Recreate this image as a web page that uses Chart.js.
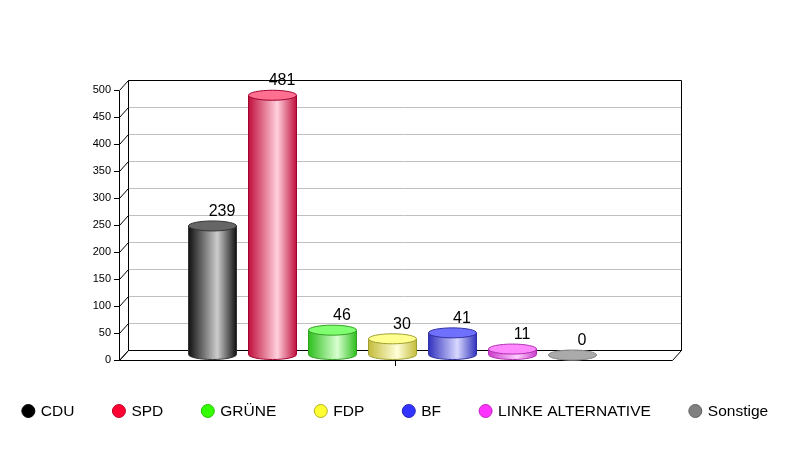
<!DOCTYPE html>
<html>
<head>
<meta charset="utf-8">
<script src="https://cdn.jsdelivr.net/npm/chart.js@4.4.1/dist/chart.umd.min.js"></script>
<style>
html,body{margin:0;padding:0;background:#fff;}
#wrap{width:791px;height:450px;position:relative;}
</style>
</head>
<body>
<div id="wrap"><canvas id="c" width="791" height="450"></canvas></div>
<script>
// ---- data ----
const categories = [''];
const parties = ['CDU', 'SPD', 'GRÜNE', 'FDP', 'BF', 'LINKE ALTERNATIVE', 'Sonstige'];
const seats = [239, 481, 46, 30, 41, 11, 0];
const yTicks = [0, 50, 100, 150, 200, 250, 300, 350, 400, 450, 500];

// ---- styles ----
const legendColors = ['#000000', '#ff0033', '#33ff00', '#ffff33', '#3333ff', '#ff33ff', '#808080'];
const legendBorders = ['#000000', '#c00028', '#28c000', '#b0b020', '#2020c0', '#c020c0', '#606060'];
const edgeColors = ['#111111', '#c0103c', '#2fbf1f', '#c4bc3c', '#3232be', '#cc3ccc', '#a8a8a8'];
const midColors  = ['#cccccc', '#ffd0dc', '#d8ffd0', '#ffffd8', '#d8d8ff', '#ffd0ff', '#a8a8a8'];
const topColors  = ['#666666', '#ff7090', '#80ff70', '#ffff90', '#7070ff', '#ff88ff', '#aaaaaa'];
const strokeColors = ['#333333', '#a00030', '#30a020', '#a0a030', '#3030a0', '#b030b0', '#8c8c8c'];
const FONT = '"Liberation Sans", Arial, sans-serif';
const DX = 9, DY = -10;       // 3D depth offset
const BAR_SHIFT = -3;         // horizontal nudge of cylinders
const RY = 5;                 // ellipse half-height

const threeD = {
  id: 'threeD',
  beforeDatasetsDraw(chart) {
    const {ctx, chartArea: a, scales: {y}} = chart;
    ctx.save();
    ctx.lineWidth = 1;
    ctx.strokeStyle = '#c0c0c0';
    yTicks.forEach(v => {
      const py = Math.round(y.getPixelForValue(v) + DY) + 0.5;
      ctx.beginPath();
      ctx.moveTo(a.left + DX, py);
      ctx.lineTo(a.right + DX, py);
      ctx.stroke();
    });
    ctx.strokeStyle = '#000';
    const L = a.left + 0.5, R = a.right + 0.5, T = Math.round(a.top) + 0.5, B = Math.round(a.bottom) + 0.5;
    ctx.beginPath();
    ctx.moveTo(L + DX, B + DY); ctx.lineTo(L + DX, T + DY); ctx.lineTo(R + DX, T + DY); ctx.lineTo(R + DX, B + DY);
    ctx.moveTo(L + DX, B + DY); ctx.lineTo(R + DX, B + DY);
    ctx.moveTo(L, B); ctx.lineTo(L + DX, B + DY);
    ctx.moveTo(R, B); ctx.lineTo(R + DX, B + DY);
    ctx.moveTo(L, B); ctx.lineTo(R, B);
    ctx.moveTo(L, T); ctx.lineTo(L, B);
    yTicks.forEach(v => {
      const py = Math.round(y.getPixelForValue(v)) + 0.5;
      ctx.moveTo(L, py); ctx.lineTo(L + DX, py + DY);
    });
    ctx.stroke();
    ctx.restore();
  },
  afterDatasetsDraw(chart) {
    const {ctx} = chart;
    ctx.save();
    chart.data.datasets.forEach((ds, i) => {
      const meta = chart.getDatasetMeta(i);
      meta.data.forEach(el => {
        const cx = el.x + BAR_SHIFT;
        const rx = el.width / 2;
        const topY = el.y - 5;
        const botY = el.base - 5;
        const g = ctx.createLinearGradient(cx - rx, 0, cx + rx, 0);
        g.addColorStop(0, edgeColors[i]);
        g.addColorStop(0.6, midColors[i]);
        g.addColorStop(1, edgeColors[i]);
        ctx.beginPath();
        ctx.moveTo(cx - rx, topY);
        ctx.lineTo(cx - rx, botY);
        ctx.ellipse(cx, botY, rx, RY, 0, Math.PI, 0, true);
        ctx.lineTo(cx + rx, topY);
        ctx.closePath();
        ctx.fillStyle = g;
        ctx.fill();
        ctx.strokeStyle = strokeColors[i];
        ctx.lineWidth = 1;
        ctx.stroke();
        ctx.beginPath();
        ctx.ellipse(cx, topY, rx, RY, 0, 0, Math.PI * 2);
        ctx.fillStyle = topColors[i];
        ctx.fill();
        ctx.stroke();
        ctx.fillStyle = '#000';
        ctx.font = '16px ' + FONT;
        ctx.textAlign = 'center';
        ctx.textBaseline = 'alphabetic';
        ctx.fillText(String(ds.data[0]), cx + 9.5, topY - RY - 5);
      });
    });
    ctx.restore();
  },
  afterDraw(chart) {
    const {ctx} = chart;
    ctx.save();
    ctx.font = '15.5px ' + FONT;
    const gap = 38, circ = 13, textOff = 19;
    const widths = parties.map(p => textOff + ctx.measureText(p).width);
    const total = widths.reduce((s, w) => s + w, 0) + gap * (parties.length - 1);
    let x = 395 - total / 2;
    const cy = 411;
    parties.forEach((p, i) => {
      ctx.beginPath();
      ctx.arc(x + circ / 2, cy, circ / 2, 0, Math.PI * 2);
      ctx.fillStyle = legendColors[i];
      ctx.fill();
      ctx.strokeStyle = legendBorders[i];
      ctx.lineWidth = 1;
      ctx.stroke();
      ctx.fillStyle = '#000';
      ctx.textAlign = 'left';
      ctx.textBaseline = 'middle';
      ctx.fillText(p, x + textOff, cy + 1);
      x += widths[i] + gap;
    });
    ctx.restore();
  }
};

const datasets = parties.map((p, i) => ({
  label: p,
  data: [seats[i]],
  backgroundColor: 'rgba(0,0,0,0)',
  borderWidth: 0
}));

new Chart(document.getElementById('c'), {
  type: 'bar',
  data: {labels: categories, datasets},
  plugins: [threeD],
  options: {
    responsive: false,
    animation: false,
    devicePixelRatio: 1,
    categoryPercentage: 420 / 553,
    barPercentage: 0.8,
    layout: {padding: {left: 0, right: 119, top: 90, bottom: 80}},
    plugins: {legend: {display: false}, tooltip: {enabled: false}},
    scales: {
      x: {
        grid: {display: true, drawOnChartArea: false, drawTicks: true, tickLength: 6, color: '#000', offset: false},
        border: {display: false},
        ticks: {display: false},
        afterFit: s => { s.height = 10; }
      },
      y: {
        min: 0, max: 500,
        afterBuildTicks: s => { s.ticks = yTicks.map(v => ({value: v})); },
        grid: {display: true, drawOnChartArea: false, drawTicks: true, tickLength: 5, color: '#000'},
        border: {display: false},
        ticks: {color: '#000', font: {size: 11, family: FONT}, padding: 3},
        afterFit: s => { s.width = 119; }
      }
    }
  }
});
</script>
</body>
</html>
